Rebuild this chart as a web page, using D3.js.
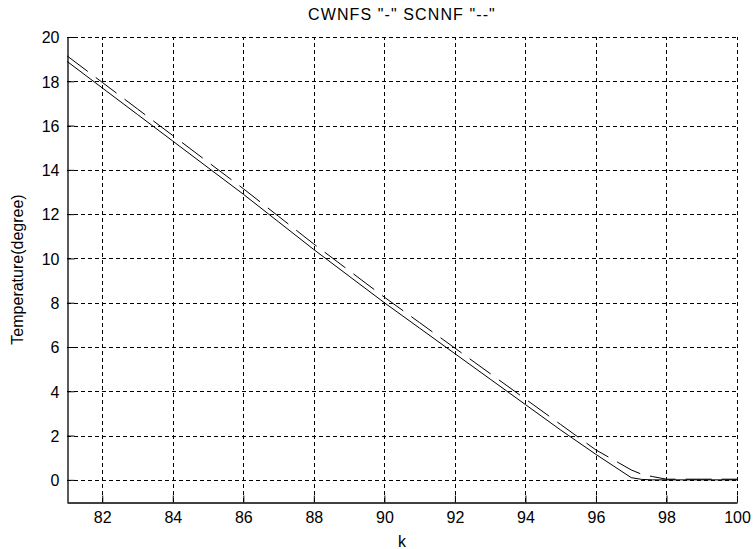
<!DOCTYPE html>
<html>
<head>
<meta charset="utf-8">
<script src="https://cdn.jsdelivr.net/npm/d3@7/dist/d3.min.js"></script>
<style>
  html, body { margin: 0; padding: 0; background: #fff; }
  svg { display: block; }
  text { font-family: "Liberation Sans", Arial, sans-serif; fill: #000; }
</style>
</head>
<body>
<svg id="chart" width="753" height="549"></svg>
<script>
// ---- data ----
const kValues      = [81, 82, 83, 84, 85, 86, 87, 88, 89, 90, 91, 92, 93, 94, 95, 96, 97, 97.3, 97.6, 98, 99, 100];
const cwnfsValues  = [18.9, 17.7, 16.5, 15.3, 14.1, 12.9, 11.65, 10.4, 9.2, 8.0, 6.85, 5.7, 4.55, 3.4, 2.25, 1.15, 0.1, 0.02, 0, 0, 0, 0];
const scnnfValues  = [19.15, 17.95, 16.75, 15.55, 14.35, 13.15, 11.9, 10.65, 9.45, 8.25, 7.1, 5.95, 4.8, 3.65, 2.5, 1.35, 0.45, 0.25, 0.15, 0.03, 0.03, 0.03];
const xTicks = [82, 84, 86, 88, 90, 92, 94, 96, 98, 100];
const yTicks = [0, 2, 4, 6, 8, 10, 12, 14, 16, 18, 20];
const titleText = 'CWNFS "-" SCNNF "--"';
const xLabelText = 'k';
const yLabelText = 'Temperature(degree)';

// ---- layout ----
const W = 753, H = 549;
const m = { left: 67, right: 16, top: 37, bottom: 47 };
const svg = d3.select('#chart');
const x = d3.scaleLinear().domain([81, 100]).range([m.left, W - m.right]);
const y = d3.scaleLinear().domain([-1, 20]).range([H - m.bottom, m.top]);

// grid
const grid = svg.append('g').attr('stroke', '#000').attr('stroke-width', 1)
  .attr('stroke-dasharray', '4,3').attr('shape-rendering', 'crispEdges');
grid.selectAll('line.gx').data(xTicks).join('line')
  .attr('x1', d => Math.round(x(d)) + 0.5).attr('x2', d => Math.round(x(d)) + 0.5)
  .attr('y1', y(-1)).attr('y2', m.top);
grid.selectAll('line.gy').data(yTicks).join('line')
  .attr('y1', d => Math.round(y(d)) + 0.5).attr('y2', d => Math.round(y(d)) + 0.5)
  .attr('x1', m.left).attr('x2', W - m.right);

// axes
const xAxis = d3.axisBottom(x).tickValues(xTicks).tickSizeInner(-7).tickSizeOuter(0).tickPadding(9);
const yAxis = d3.axisLeft(y).tickValues(yTicks).tickSizeInner(-7).tickSizeOuter(0).tickPadding(8);
const gx = svg.append('g').attr('transform', `translate(0,${Math.round(y(-1)) + 0.5})`).call(xAxis);
const gy = svg.append('g').attr('transform', `translate(${Math.round(x(81)) + 0.5},0)`).call(yAxis);
[gx, gy].forEach(g => {
  g.select('.domain').attr('stroke', '#000').attr('stroke-width', 1.3);
  g.selectAll('.tick line').attr('stroke', '#000');
  g.selectAll('.tick text').attr('font-size', 16).attr('font-family', '"Liberation Sans", Arial, sans-serif').attr('fill', '#000');
});
gx.selectAll('.tick text').attr('dy', '0.71em');
gy.selectAll('.tick text').attr('dy', '0.36em');

// lines
const line = d3.line().x((d, i) => x(kValues[i])).y(d => y(d));
svg.append('path').datum(cwnfsValues).attr('d', line)
  .attr('fill', 'none').attr('stroke', '#000').attr('stroke-width', 1);
svg.append('path').datum(scnnfValues).attr('d', line)
  .attr('fill', 'none').attr('stroke', '#000').attr('stroke-width', 1).attr('stroke-dasharray', '26,10');

// labels
svg.append('text').attr('x', (m.left + W - m.right) / 2).attr('y', 20)
  .attr('text-anchor', 'middle').attr('font-size', 16).attr('letter-spacing', 1.1).text(titleText);
svg.append('text').attr('x', (m.left + W - m.right) / 2).attr('y', 547)
  .attr('text-anchor', 'middle').attr('font-size', 16).text(xLabelText);
svg.append('text').attr('transform', `translate(23,${(m.top + H - m.bottom) / 2}) rotate(-90)`)
  .attr('text-anchor', 'middle').attr('font-size', 16).text(yLabelText);
</script>
</body>
</html>
